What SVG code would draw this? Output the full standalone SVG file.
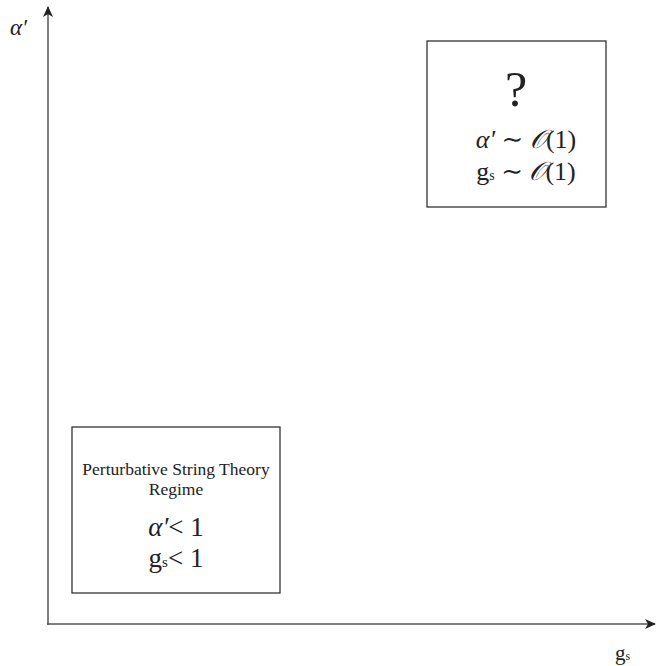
<svg xmlns="http://www.w3.org/2000/svg" width="656" height="666" viewBox="0 0 656 666">
<style>
text{font-family:"Liberation Serif","DejaVu Serif",serif;fill:#222}
.box{fill:#fff;stroke:#333;stroke-width:1.3}
.ax{stroke:#555;stroke-width:1.5;fill:none}
.c{text-anchor:middle}
</style>
<defs>
<marker id="ah" markerWidth="12" markerHeight="10" refX="10" refY="5" orient="auto" markerUnits="userSpaceOnUse">
<path d="M0,0 L11,5 L0,10 L3,5 Z" fill="#222"/>
</marker>
</defs>
<rect width="656" height="666" fill="#fff"/>
<g id="connectors">
<line class="ax" x1="48" y1="625" x2="48" y2="7" marker-end="url(#ah)"/>
<line class="ax" x1="47" y1="624" x2="655" y2="624" marker-end="url(#ah)"/>
</g>
<g id="axis-y-label"><text x="10" y="35" font-size="23" font-style="italic">α′</text></g>
<g id="axis-x-label"><text x="615" y="660" font-size="21">g<tspan font-size="12">s</tspan></text></g>
<g id="node-unknown">
<rect class="box" x="427" y="41" width="179" height="166"/>
<text class="c" x="516" y="106" font-size="50">?</text>
<text class="c" x="526" y="148" font-size="26"><tspan font-style="italic">α′</tspan> ∼ <tspan font-style="italic">𝒪</tspan>(1)</text>
<text class="c" x="526" y="180" font-size="26">g<tspan font-size="14">s</tspan> ∼ <tspan font-style="italic">𝒪</tspan>(1)</text>
</g>
<g id="node-perturbative">
<rect class="box" x="72" y="427" width="208" height="166"/>
<text class="c" x="176" y="475" font-size="17.5">Perturbative String Theory</text>
<text class="c" x="176" y="495" font-size="17.5">Regime</text>
<text class="c" x="176" y="536" font-size="27"><tspan font-style="italic">α′</tspan>&lt; 1</text>
<text class="c" x="176" y="567" font-size="27">g<tspan font-size="15">s</tspan>&lt; 1</text>
</g>
</svg>
